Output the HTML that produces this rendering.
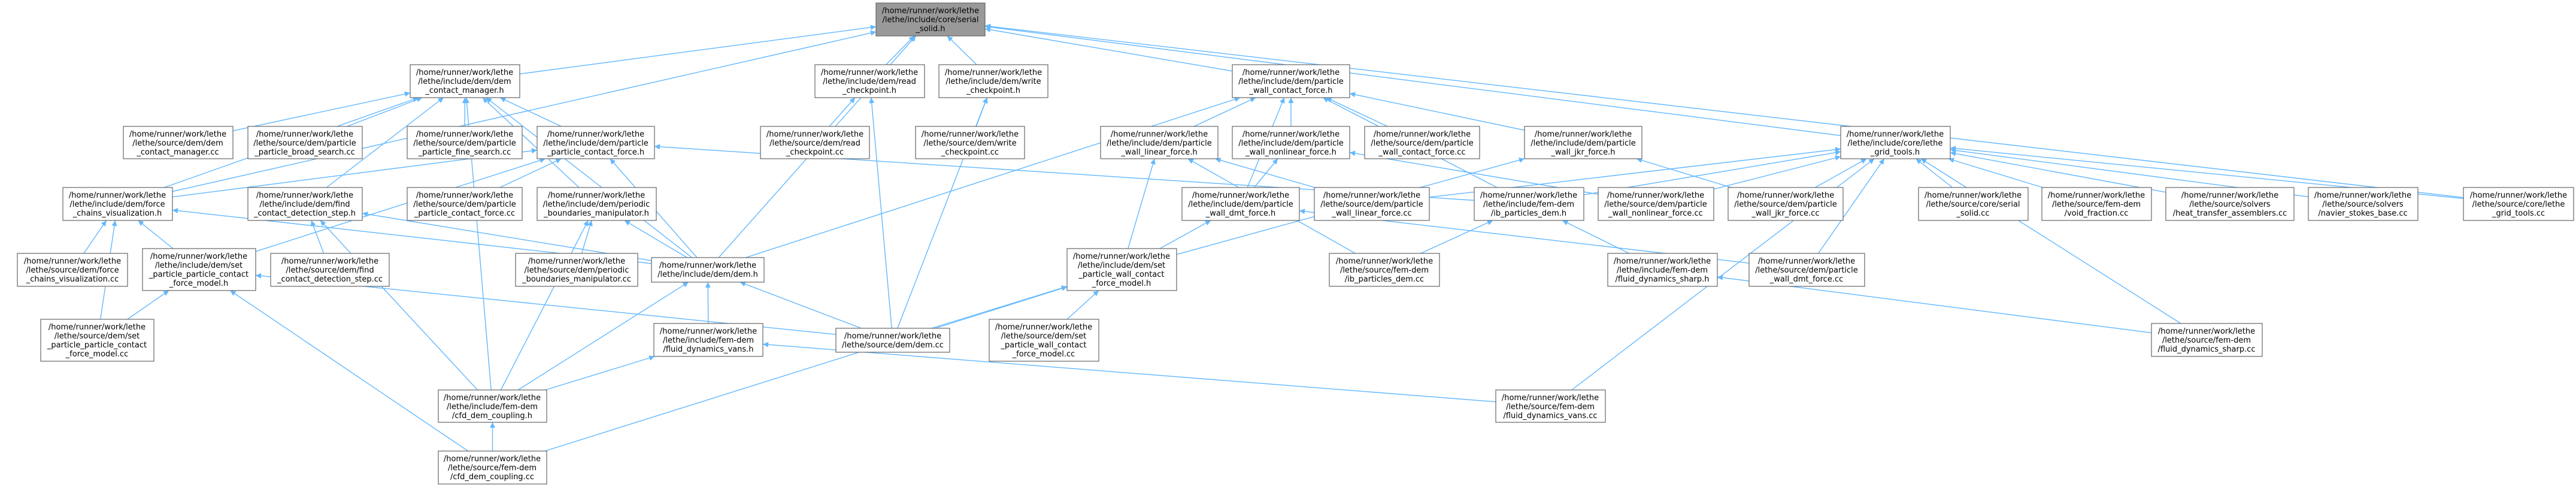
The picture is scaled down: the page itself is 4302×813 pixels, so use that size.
<!DOCTYPE html>
<html><head><meta charset="utf-8">
<style>
html,body{margin:0;padding:0;background:#fff;}
svg{display:block;}
text{font-family:"DejaVu Sans","Liberation Sans",sans-serif;font-size:13px;fill:#000;text-anchor:middle;}
rect{fill:#fff;stroke:#666;stroke-width:1.2;}
rect.root{fill:#999;}
</style></head>
<body>
<svg id="g" width="4302" height="813" viewBox="0 0 4302 813" xmlns="http://www.w3.org/2000/svg">
<defs><marker id="ah" viewBox="0 0 10 10" refX="10" refY="5" markerWidth="11" markerHeight="9" markerUnits="userSpaceOnUse" orient="auto"><path d="M0,0 L10,5 L0,10 z" fill="#63b8ff"/></marker></defs>
<g id="edges" stroke="#63b8ff" stroke-width="1.4" fill="none"></g>
<g id="nodes">
<rect class="root" x="1463" y="5" width="182" height="55"/><text x="1554" y="22">/home/runner/work/lethe</text><text x="1554" y="37">/lethe/include/core/serial</text><text x="1554" y="52">_solid.h</text>
<rect x="685" y="108" width="183" height="55"/><text x="776" y="125">/home/runner/work/lethe</text><text x="776" y="140">/lethe/include/dem/dem</text><text x="776" y="155">_contact_manager.h</text>
<rect x="1361" y="108" width="183" height="55"/><text x="1452" y="125">/home/runner/work/lethe</text><text x="1452" y="140">/lethe/include/dem/read</text><text x="1452" y="155">_checkpoint.h</text>
<rect x="1568" y="108" width="182" height="55"/><text x="1659" y="125">/home/runner/work/lethe</text><text x="1659" y="140">/lethe/include/dem/write</text><text x="1659" y="155">_checkpoint.h</text>
<rect x="2058" y="108" width="196" height="55"/><text x="2156" y="125">/home/runner/work/lethe</text><text x="2156" y="140">/lethe/include/dem/particle</text><text x="2156" y="155">_wall_contact_force.h</text>

<rect x="206" y="211" width="183" height="54"/><text x="297" y="228">/home/runner/work/lethe</text><text x="297" y="243">/lethe/source/dem/dem</text><text x="297" y="258">_contact_manager.cc</text>
<rect x="414" y="211" width="191" height="54"/><text x="509" y="228">/home/runner/work/lethe</text><text x="509" y="243">/lethe/source/dem/particle</text><text x="509" y="258">_particle_broad_search.cc</text>
<rect x="680" y="211" width="192" height="54"/><text x="776" y="228">/home/runner/work/lethe</text><text x="776" y="243">/lethe/source/dem/particle</text><text x="776" y="258">_particle_fine_search.cc</text>
<rect x="897" y="211" width="196" height="54"/><text x="995" y="228">/home/runner/work/lethe</text><text x="995" y="243">/lethe/include/dem/particle</text><text x="995" y="258">_particle_contact_force.h</text>
<rect x="1270" y="211" width="182" height="54"/><text x="1361" y="228">/home/runner/work/lethe</text><text x="1361" y="243">/lethe/source/dem/read</text><text x="1361" y="258">_checkpoint.cc</text>
<rect x="1529" y="211" width="182" height="54"/><text x="1620" y="228">/home/runner/work/lethe</text><text x="1620" y="243">/lethe/source/dem/write</text><text x="1620" y="258">_checkpoint.cc</text>
<rect x="1838" y="211" width="196" height="54"/><text x="1936" y="228">/home/runner/work/lethe</text><text x="1936" y="243">/lethe/include/dem/particle</text><text x="1936" y="258">_wall_linear_force.h</text>
<rect x="2058" y="211" width="196" height="54"/><text x="2156" y="228">/home/runner/work/lethe</text><text x="2156" y="243">/lethe/include/dem/particle</text><text x="2156" y="258">_wall_nonlinear_force.h</text>
<rect x="2279" y="211" width="192" height="54"/><text x="2375" y="228">/home/runner/work/lethe</text><text x="2375" y="243">/lethe/source/dem/particle</text><text x="2375" y="258">_wall_contact_force.cc</text>
<rect x="2546" y="211" width="196" height="54"/><text x="2644" y="228">/home/runner/work/lethe</text><text x="2644" y="243">/lethe/include/dem/particle</text><text x="2644" y="258">_wall_jkr_force.h</text>
<rect x="3074" y="211" width="183" height="54"/><text x="3165" y="228">/home/runner/work/lethe</text><text x="3165" y="243">/lethe/include/core/lethe</text><text x="3165" y="258">_grid_tools.h</text>

<rect x="105" y="313" width="183" height="55"/><text x="196" y="330">/home/runner/work/lethe</text><text x="196" y="345">/lethe/include/dem/force</text><text x="196" y="360">_chains_visualization.h</text>
<rect x="414" y="313" width="191" height="55"/><text x="509" y="330">/home/runner/work/lethe</text><text x="509" y="345">/lethe/include/dem/find</text><text x="509" y="360">_contact_detection_step.h</text>
<rect x="680" y="313" width="192" height="55"/><text x="776" y="330">/home/runner/work/lethe</text><text x="776" y="345">/lethe/source/dem/particle</text><text x="776" y="360">_particle_contact_force.cc</text>
<rect x="897" y="313" width="199" height="55"/><text x="996" y="330">/home/runner/work/lethe</text><text x="996" y="345">/lethe/include/dem/periodic</text><text x="996" y="360">_boundaries_manipulator.h</text>
<rect x="1974" y="313" width="196" height="55"/><text x="2072" y="330">/home/runner/work/lethe</text><text x="2072" y="345">/lethe/include/dem/particle</text><text x="2072" y="360">_wall_dmt_force.h</text>
<rect x="2195" y="313" width="192" height="55"/><text x="2291" y="330">/home/runner/work/lethe</text><text x="2291" y="345">/lethe/source/dem/particle</text><text x="2291" y="360">_wall_linear_force.cc</text>
<rect x="2462" y="313" width="183" height="55"/><text x="2553" y="330">/home/runner/work/lethe</text><text x="2553" y="345">/lethe/include/fem-dem</text><text x="2553" y="360">/ib_particles_dem.h</text>
<rect x="2669" y="313" width="193" height="55"/><text x="2765" y="330">/home/runner/work/lethe</text><text x="2765" y="345">/lethe/source/dem/particle</text><text x="2765" y="360">_wall_nonlinear_force.cc</text>
<rect x="2886" y="313" width="192" height="55"/><text x="2982" y="330">/home/runner/work/lethe</text><text x="2982" y="345">/lethe/source/dem/particle</text><text x="2982" y="360">_wall_jkr_force.cc</text>
<rect x="3204" y="313" width="183" height="55"/><text x="3295" y="330">/home/runner/work/lethe</text><text x="3295" y="345">/lethe/source/core/serial</text><text x="3295" y="360">_solid.cc</text>
<rect x="3410" y="313" width="183" height="55"/><text x="3501" y="330">/home/runner/work/lethe</text><text x="3501" y="345">/lethe/source/fem-dem</text><text x="3501" y="360">/void_fraction.cc</text>
<rect x="3617" y="313" width="214" height="55"/><text x="3724" y="330">/home/runner/work/lethe</text><text x="3724" y="345">/lethe/source/solvers</text><text x="3724" y="360">/heat_transfer_assemblers.cc</text>
<rect x="3855" y="313" width="183" height="55"/><text x="3946" y="330">/home/runner/work/lethe</text><text x="3946" y="345">/lethe/source/solvers</text><text x="3946" y="360">/navier_stokes_base.cc</text>
<rect x="4114" y="313" width="184" height="55"/><text x="4206" y="330">/home/runner/work/lethe</text><text x="4206" y="345">/lethe/source/core/lethe</text><text x="4206" y="360">_grid_tools.cc</text>

<rect x="29" y="423" width="184" height="55"/><text x="121" y="440">/home/runner/work/lethe</text><text x="121" y="455">/lethe/source/dem/force</text><text x="121" y="470">_chains_visualization.cc</text>
<rect x="238" y="415" width="189" height="70"/><text x="332" y="432">/home/runner/work/lethe</text><text x="332" y="447">/lethe/include/dem/set</text><text x="332" y="462">_particle_particle_contact</text><text x="332" y="477">_force_model.h</text>
<rect x="452" y="423" width="198" height="55"/><text x="551" y="440">/home/runner/work/lethe</text><text x="551" y="455">/lethe/source/dem/find</text><text x="551" y="470">_contact_detection_step.cc</text>
<rect x="861" y="423" width="204" height="55"/><text x="963" y="440">/home/runner/work/lethe</text><text x="963" y="455">/lethe/source/dem/periodic</text><text x="963" y="470">_boundaries_manipulator.cc</text>
<rect x="1088" y="430" width="188" height="41"/><text x="1182" y="447">/home/runner/work/lethe</text><text x="1182" y="462">/lethe/include/dem/dem.h</text>
<rect x="1782" y="415" width="183" height="70"/><text x="1873" y="432">/home/runner/work/lethe</text><text x="1873" y="447">/lethe/include/dem/set</text><text x="1873" y="462">_particle_wall_contact</text><text x="1873" y="477">_force_model.h</text>
<rect x="2220" y="423" width="184" height="55"/><text x="2312" y="440">/home/runner/work/lethe</text><text x="2312" y="455">/lethe/source/fem-dem</text><text x="2312" y="470">/ib_particles_dem.cc</text>
<rect x="2685" y="423" width="183" height="55"/><text x="2776" y="440">/home/runner/work/lethe</text><text x="2776" y="455">/lethe/include/fem-dem</text><text x="2776" y="470">/fluid_dynamics_sharp.h</text>
<rect x="2921" y="423" width="193" height="55"/><text x="3017" y="440">/home/runner/work/lethe</text><text x="3017" y="455">/lethe/source/dem/particle</text><text x="3017" y="470">_wall_dmt_force.cc</text>

<rect x="68" y="533" width="189" height="70"/><text x="162" y="550">/home/runner/work/lethe</text><text x="162" y="565">/lethe/source/dem/set</text><text x="162" y="580">_particle_particle_contact</text><text x="162" y="595">_force_model.cc</text>
<rect x="1092" y="540" width="182" height="55"/><text x="1183" y="557">/home/runner/work/lethe</text><text x="1183" y="572">/lethe/include/fem-dem</text><text x="1183" y="587">/fluid_dynamics_vans.h</text>
<rect x="1396" y="548" width="190" height="40"/><text x="1491" y="565">/home/runner/work/lethe</text><text x="1491" y="580">/lethe/source/dem/dem.cc</text>
<rect x="1652" y="533" width="183" height="70"/><text x="1743" y="550">/home/runner/work/lethe</text><text x="1743" y="565">/lethe/source/dem/set</text><text x="1743" y="580">_particle_wall_contact</text><text x="1743" y="595">_force_model.cc</text>
<rect x="3593" y="540" width="185" height="55"/><text x="3685" y="557">/home/runner/work/lethe</text><text x="3685" y="572">/lethe/source/fem-dem</text><text x="3685" y="587">/fluid_dynamics_sharp.cc</text>

<rect x="732" y="651" width="181" height="54"/><text x="822" y="668">/home/runner/work/lethe</text><text x="822" y="683">/lethe/include/fem-dem</text><text x="822" y="698">/cfd_dem_coupling.h</text>
<rect x="2498" y="651" width="183" height="54"/><text x="2589" y="668">/home/runner/work/lethe</text><text x="2589" y="683">/lethe/source/fem-dem</text><text x="2589" y="698">/fluid_dynamics_vans.cc</text>
<rect x="732" y="753" width="181" height="55"/><text x="822" y="770">/home/runner/work/lethe</text><text x="822" y="785">/lethe/source/fem-dem</text><text x="822" y="800">/cfd_dem_coupling.cc</text>
</g>
</svg>
<script>
var N={S:[1463,1645,5,60],CM:[685,868,108,163],RC:[1361,1544,108,163],WC:[1568,1750,108,163],PWCF:[2058,2254,108,163],
DCMcc:[206,389,211,265],BS:[414,605,211,265],FS:[680,872,211,265],PPCF:[897,1093,211,265],RCcc:[1270,1452,211,265],WCcc:[1529,1711,211,265],PWL:[1838,2034,211,265],PWNL:[2058,2254,211,265],PWCFcc:[2279,2471,211,265],JKR:[2546,2742,211,265],GT:[3074,3257,211,265],
FC:[105,288,313,368],FCD:[414,605,313,368],PPCFcc:[680,872,313,368],PBM:[897,1096,313,368],DMT:[1974,2170,313,368],PWLcc:[2195,2387,313,368],IB:[2462,2645,313,368],PWNLcc:[2669,2862,313,368],JKRcc:[2886,3078,313,368],SScc:[3204,3387,313,368],VF:[3410,3593,313,368],HT:[3617,3831,313,368],NS:[3855,4038,313,368],GTcc:[4114,4298,313,368],
FCcc:[29,213,423,478],SPP:[238,427,415,485],FCDcc:[452,650,423,478],PBMcc:[861,1065,423,478],DEMH:[1088,1276,430,471],SPW:[1782,1965,415,485],IBcc:[2220,2404,423,478],FDS:[2685,2868,423,478],DMTcc:[2921,3114,423,478],
SPPcc:[68,257,533,603],FDV:[1092,1274,540,595],DEMcc:[1396,1586,548,588],SPWcc:[1652,1835,533,603],FDScc:[3593,3778,540,595],
CFDH:[732,913,651,705],FDVcc:[2498,2681,651,705],CFDcc:[732,913,753,808]};
var E="CM S,RC S,WC S,PWCF S,GT S,GTcc S,DEMH S,FC S,DCMcc CM,BS CM,FS CM,PPCF CM,FCD CM,FC CM,CFDH CM,DEMH CM,PBM CM,PPCFcc PPCF,SPP PPCF,FC PPCF,DEMH PPCF,IB PPCF,FCcc FC,SPPcc FC,SPP FC,DEMH FC,FCDcc FCD,CFDH FCD,DEMH FCD,PBMcc PBM,CFDH PBM,DEMH PBM,SPPcc SPP,CFDcc SPP,DEMcc SPP,FDV DEMH,DEMcc DEMH,CFDH DEMH,CFDcc CFDH,CFDH FDV,FDVcc FDV,CFDcc SPW,RCcc RC,DEMcc RC,WCcc WC,DEMcc WC,PWL PWCF,PWNL PWCF,PWCFcc PWCF,JKR PWCF,IB PWCF,DEMH PWCF,DMT PWCF,PWLcc PWL,SPW PWL,IBcc PWL,PWNLcc PWNL,DMT PWNL,DMTcc DMT,SPW DMT,SPWcc SPW,DEMcc SPW,SPW JKR,JKRcc JKR,IBcc IB,FDS IB,FDScc FDS,PWLcc GT,IB GT,PWNLcc GT,JKRcc GT,SScc GT,VF GT,HT GT,NS GT,GTcc GT,FDVcc GT,FDScc GT,DMTcc GT".split(",");
function clip(b,cx,cy,dx,dy){var hw=(b[1]-b[0])/2,hh=(b[3]-b[2])/2;var t=Math.min(dx?hw/Math.abs(dx):1e9,dy?hh/Math.abs(dy):1e9);return [cx+dx*t,cy+dy*t];}
var g=document.getElementById('edges'),s="";
E.forEach(function(e){var p=e.split(" "),c=N[p[0]],q=N[p[1]];
var cx=(c[0]+c[1])/2,cy=(c[2]+c[3])/2,px=(q[0]+q[1])/2,py=(q[2]+q[3])/2,dx=px-cx,dy=py-cy;
var a=clip(c,cx,cy,dx,dy),b=clip(q,px,py,-dx,-dy);
s+='<path d="M'+a[0].toFixed(1)+','+a[1].toFixed(1)+' L'+b[0].toFixed(1)+','+b[1].toFixed(1)+'" marker-end="url(#ah)"/>';});
g.innerHTML=s;
</script>
</body></html>
